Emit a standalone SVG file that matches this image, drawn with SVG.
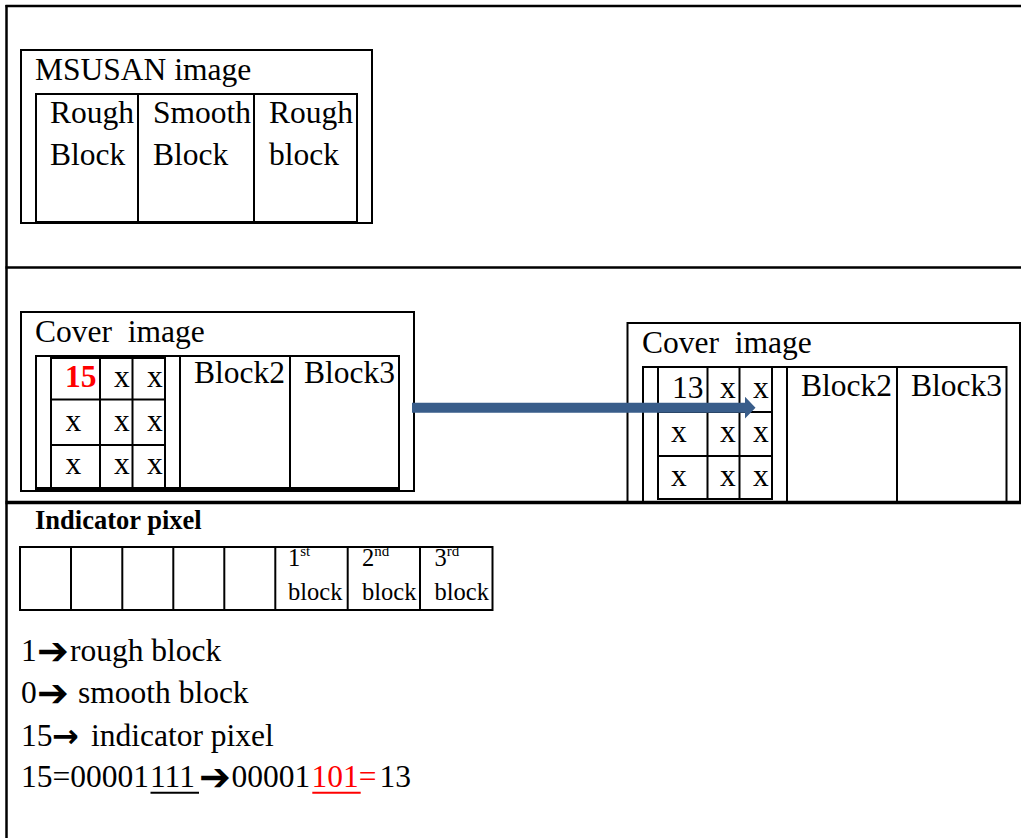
<svg xmlns="http://www.w3.org/2000/svg" width="1021" height="838" viewBox="0 0 1021 838">
<style>
  .ln { stroke: #000; stroke-width: 2; fill: none; }
  .frame { stroke: #000; fill: none; }
  .t { font-family: "Liberation Serif", "Times New Roman", serif; font-size: 31.5px; fill: #000; }
  .ts { font-family: "Liberation Serif", "Times New Roman", serif; font-size: 24.5px; fill: #000; }
  .sup { font-family: "Liberation Serif", "Times New Roman", serif; font-size: 15px; fill: #000; }
  .b { font-weight: bold; }
  .red { fill: #ff0000; }
  .sym { font-family: "DejaVu Sans", sans-serif; font-size: 38px; fill: #000; }
</style>
<rect width="1021" height="838" fill="#fff"/>

<g id="frame">
  <line class="frame" x1="5.5" y1="6" x2="1021" y2="6" stroke-width="2.5"/>
  <line class="frame" x1="6.5" y1="5" x2="6.5" y2="838" stroke-width="2.5"/>
  <line class="frame" x1="5.5" y1="267.5" x2="1021" y2="267.5" stroke-width="2.5"/>
  <line class="frame" x1="5.5" y1="502.5" x2="1021" y2="502.5" stroke-width="3.5"/>
</g>

<g id="msusan">
  <rect class="ln" x="21" y="50" width="351" height="173"/>
  <rect class="ln" x="36" y="94" width="321" height="128"/>
  <line class="ln" x1="138" y1="94" x2="138" y2="222"/>
  <line class="ln" x1="254" y1="94" x2="254" y2="222"/>
  <text class="t" x="35" y="80">MSUSAN image</text>
  <text class="t" x="50" y="123">Rough</text>
  <text class="t" x="50" y="165">Block</text>
  <text class="t" x="153" y="123">Smooth</text>
  <text class="t" x="153" y="165">Block</text>
  <text class="t" x="269" y="123">Rough</text>
  <text class="t" x="269" y="165">block</text>
</g>

<g id="cover-left">
  <rect class="ln" x="21" y="312" width="393" height="179"/>
  <rect class="ln" x="36" y="356" width="363" height="133"/>
  <line class="ln" x1="36" y1="488" x2="399" y2="488" stroke-width="3"/>
  <rect class="ln" x="51" y="358" width="114" height="130"/>
  <line class="ln" x1="100" y1="358" x2="100" y2="488"/>
  <line class="ln" x1="132.5" y1="358" x2="132.5" y2="488"/>
  <line class="ln" x1="51" y1="399.5" x2="165" y2="399.5"/>
  <line class="ln" x1="51" y1="445" x2="165" y2="445"/>
  <line class="ln" x1="180" y1="356" x2="180" y2="489"/>
  <line class="ln" x1="290" y1="356" x2="290" y2="489"/>
  <text class="t" x="35" y="342">Cover&#160; image</text>
  <text class="t b red" x="65" y="386.5">15</text>
  <text class="t" x="114" y="386.5">x</text>
  <text class="t" x="147" y="386.5">x</text>
  <text class="t" x="65.5" y="430.5">x</text>
  <text class="t" x="114" y="430.5">x</text>
  <text class="t" x="147" y="430.5">x</text>
  <text class="t" x="65.5" y="473.5">x</text>
  <text class="t" x="114" y="473.5">x</text>
  <text class="t" x="147" y="473.5">x</text>
  <text class="t" x="194" y="383">Block2</text>
  <text class="t" x="304" y="383">Block3</text>
</g>

<g id="cover-right">
  <polyline class="ln" points="627.5,501 627.5,323 1020,323 1020,501"/>
  <polyline class="ln" points="643,501 643,367 1006.5,367 1006.5,501"/>
  <line class="ln" x1="658" y1="367" x2="658" y2="500"/>
  <line class="ln" x1="707.5" y1="367" x2="707.5" y2="500"/>
  <line class="ln" x1="739.5" y1="367" x2="739.5" y2="500"/>
  <line class="ln" x1="772" y1="367" x2="772" y2="500"/>
  <line class="ln" x1="658" y1="412" x2="772" y2="412"/>
  <line class="ln" x1="658" y1="456" x2="772" y2="456"/>
  <line class="ln" x1="658" y1="499" x2="772" y2="499" stroke-width="3"/>
  <line class="ln" x1="787" y1="367" x2="787" y2="501"/>
  <line class="ln" x1="897" y1="367" x2="897" y2="501"/>
  <text class="t" x="642" y="353">Cover&#160; image</text>
  <text class="t" x="672" y="397.5">13</text>
  <text class="t" x="720" y="397.5">x</text>
  <text class="t" x="753" y="397.5">x</text>
  <text class="t" x="671" y="441.5">x</text>
  <text class="t" x="720" y="441.5">x</text>
  <text class="t" x="753" y="441.5">x</text>
  <text class="t" x="671" y="485.5">x</text>
  <text class="t" x="720" y="485.5">x</text>
  <text class="t" x="753" y="485.5">x</text>
  <text class="t" x="801" y="396">Block2</text>
  <text class="t" x="911" y="396">Block3</text>
</g>

<g id="connectors">
  <polygon fill="#395D8A" points="412,402.7 745,402.7 745,396.7 755.5,407.7 745,418.5 745,412.7 412,412.7"/>
</g>

<g id="indicator">
  <text class="t b" x="35" y="528.5" style="font-size:26.5px">Indicator pixel</text>
  <rect class="ln" x="20" y="547" width="472.5" height="63"/>
  <line class="ln" x1="71" y1="547" x2="71" y2="610"/>
  <line class="ln" x1="122.3" y1="547" x2="122.3" y2="610"/>
  <line class="ln" x1="173.3" y1="547" x2="173.3" y2="610"/>
  <line class="ln" x1="224.3" y1="547" x2="224.3" y2="610"/>
  <line class="ln" x1="275.3" y1="547" x2="275.3" y2="610"/>
  <line class="ln" x1="347.7" y1="547" x2="347.7" y2="610"/>
  <line class="ln" x1="420" y1="547" x2="420" y2="610"/>
  <text class="ts" x="288" y="566">1<tspan class="sup" dy="-10">st</tspan></text>
  <text class="ts" x="288" y="600">block</text>
  <text class="ts" x="362" y="566">2<tspan class="sup" dy="-10">nd</tspan></text>
  <text class="ts" x="362" y="600">block</text>
  <text class="ts" x="434.5" y="566">3<tspan class="sup" dy="-10">rd</tspan></text>
  <text class="ts" x="434.5" y="600">block</text>
</g>

<g id="legend">
  <text class="t" x="21" y="661">1</text>
  <text class="sym" x="37" y="664">➔</text>
  <text class="t" x="70" y="661">rough block</text>
  <text class="t" x="21" y="703">0</text>
  <text class="sym" x="37" y="706">➔</text>
  <text class="t" x="78" y="703">smooth block</text>
  <text class="t" x="21" y="746">15</text>
  <text class="sym b" x="52" y="747" style="font-size:32px">→</text>
  <text class="t" x="91" y="746">indicator pixel</text>
  <text class="t" x="21" y="787">15=00001</text>
  <text class="t" x="150" y="787">111</text>
  <line x1="150.5" y1="792.7" x2="199" y2="792.7" stroke="#000" stroke-width="2"/>
  <text class="sym" x="199" y="790">➔</text>
  <text class="t" x="231.5" y="787">00001</text>
  <text class="t red" x="311.5" y="787">101=</text>
  <line x1="312.3" y1="792.7" x2="360.7" y2="792.7" stroke="#ff0000" stroke-width="2"/>
  <text class="t" x="379.5" y="787">13</text>
</g>
</svg>
